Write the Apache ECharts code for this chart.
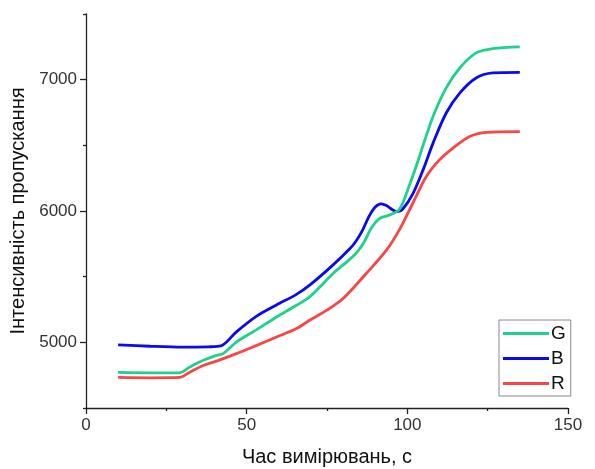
<!DOCTYPE html>
<html>
<head>
<meta charset="utf-8">
<script src="https://cdn.jsdelivr.net/npm/echarts@6/dist/echarts.min.js"></script>
<style>
html,body{margin:0;padding:0;background:#fff;}
#chart{width:595px;height:469px;}
</style>
</head>
<body>
<div id="chart"></div>
<script>
// ---- data ----
const xLabels = [0, 50, 100, 150];
const xMinorTicks = [25, 75, 125];
const yLabels = [5000, 6000, 7000];
const yMinorTicks = [4500, 5500, 6500, 7500];

const timeG = [10, 20, 29, 32.3, 36.5, 40.6, 42.7, 46.8, 53.1, 59.3, 65.5, 69.6, 76.9, 82, 84.5, 86.7, 88.8, 91.4, 94.5, 97.6, 100.7, 103.3, 104.9, 108, 112.1, 116.3, 121.4, 126.6, 135];
const valG  = [4771, 4768, 4768, 4812, 4863, 4901, 4914, 5002, 5097, 5193, 5282, 5346, 5524, 5630, 5690, 5770, 5870, 5944, 5969, 6015, 6200, 6380, 6500, 6720, 6937, 7089, 7204, 7237, 7250];

const timeB = [10, 20, 30, 38, 42, 46.8, 53.1, 59.3, 65.5, 69.6, 76.9, 82, 84, 86, 88, 90, 91.8, 93.5, 95.5, 97, 98.6, 101.7, 104.9, 108, 112.1, 116.3, 121.4, 126.6, 135];
const valB  = [4981, 4970, 4963, 4966, 4973, 5080, 5200, 5285, 5365, 5435, 5590, 5710, 5770, 5850, 5955, 6030, 6055, 6042, 6008, 5995, 6015, 6130, 6313, 6517, 6746, 6898, 7013, 7051, 7056];

const timeR = [10, 20, 29.2, 32.3, 36.5, 40.6, 46.8, 53.1, 59.3, 65.5, 69.6, 75, 80, 87.2, 93.5, 97.6, 101.7, 105.9, 110, 114.2, 119.4, 124.6, 135];
const valR  = [4733, 4730, 4733, 4773, 4824, 4857, 4914, 4977, 5040, 5105, 5168, 5245, 5333, 5524, 5702, 5860, 6059, 6262, 6389, 6479, 6567, 6598, 6605];

const seriesNames = ['G', 'B', 'R'];
const seriesColors = ['#1dd28d', '#0a0af0', '#f94545'];

function pairs(xs, ys) { return xs.map((x, i) => [x, ys[i]]); }

const font = 'Liberation Sans, Arial, sans-serif';
const chart = echarts.init(document.getElementById('chart'), null, {renderer: 'canvas'});

const baseX = {
  type: 'value', min: 0, max: 150, position: 'bottom',
  splitLine: {show: false}
};
const baseY = {
  type: 'value', min: 4500, max: 7500, position: 'left',
  splitLine: {show: false}
};
const plain = v => String(v);

chart.setOption({
  animation: false,
  backgroundColor: '#fff',
  grid: {left: 86, top: 14, right: 27, bottom: 61, containLabel: false, outerBoundsMode: 'none'},
  legend: {
    orient: 'vertical',
    left: 499, top: 320,
    data: seriesNames,
    icon: 'rect',
    itemWidth: 46, itemHeight: 3,
    itemGap: 6,
    padding: [4, 5, 3, 4],
    borderColor: '#8a8a8a', borderWidth: 1,
    textStyle: {fontFamily: font, fontSize: 19, color: '#111', padding: [0, 0, 0, -3]}
  },
  xAxis: [
    Object.assign({}, baseX, {
      axisLine: {show: true, lineStyle: {color: '#222', width: 1.3}},
      axisTick: {show: true, customValues: xLabels, length: 6, lineStyle: {color: '#222', width: 1.3}},
      axisLabel: {customValues: xLabels, formatter: plain, fontFamily: font, fontSize: 17, color: '#333', margin: 9},
      name: 'Час вимірювань, с', nameLocation: 'middle', nameGap: 39,
      nameTextStyle: {fontFamily: font, fontSize: 20, color: '#111'}
    }),
    Object.assign({}, baseX, {
      axisLine: {show: false},
      axisTick: {show: true, customValues: xMinorTicks, length: 3, lineStyle: {color: '#222', width: 1.3}},
      axisLabel: {show: false}
    })
  ],
  yAxis: [
    Object.assign({}, baseY, {
      axisLine: {show: true, lineStyle: {color: '#222', width: 1.3}},
      axisTick: {show: true, customValues: yLabels, length: 6, lineStyle: {color: '#222', width: 1.3}},
      axisLabel: {customValues: yLabels, formatter: plain, fontFamily: font, fontSize: 17, color: '#333', margin: 9},
      name: 'Інтенсивність пропускання', nameLocation: 'middle', nameGap: 51, nameRotate: 90,
      nameTextStyle: {fontFamily: font, fontSize: 20, color: '#111'}
    }),
    Object.assign({}, baseY, {
      axisLine: {show: false},
      axisTick: {show: true, customValues: yMinorTicks, length: 3, lineStyle: {color: '#222', width: 1.3}},
      axisLabel: {show: false}
    })
  ],
  series: [
    {name: 'G', type: 'line', data: pairs(timeG, valG)},
    {name: 'B', type: 'line', data: pairs(timeB, valB)},
    {name: 'R', type: 'line', data: pairs(timeR, valR)}
  ].map((s, i) => Object.assign(s, {
    xAxisIndex: 0, yAxisIndex: 0,
    showSymbol: false, symbol: 'none', smooth: 0.3,
    color: seriesColors[i],
    lineStyle: {width: 2.8, color: seriesColors[i]},
    z: 3 - i
  }))
});
</script>
</body>
</html>
